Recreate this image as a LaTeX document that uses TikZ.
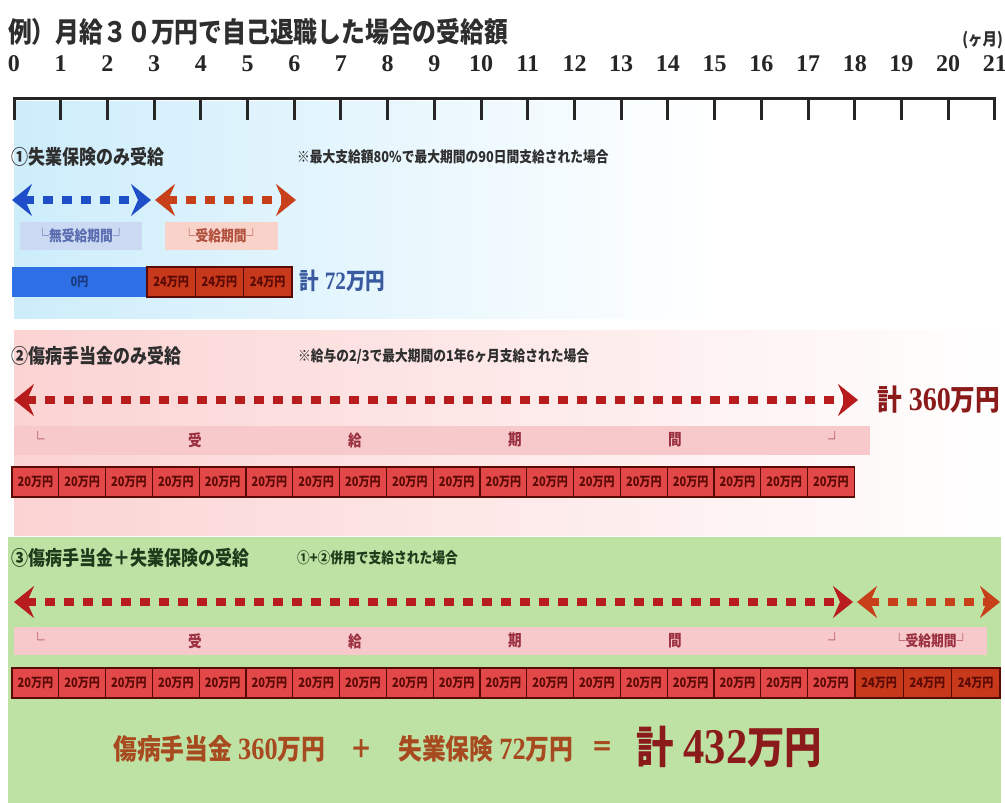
\documentclass[tikz,border=0pt]{standalone}
\usepackage{fontspec}
\usetikzlibrary{arrows.meta}
\newfontfamily\cjk[FakeStretch=0.85]{Noto Sans CJK JP}
\newfontfamily\nm[FakeStretch=0.85]{Liberation Serif}
\newfontfamily\nmax{Liberation Serif}
\newcommand{\fs}[1]{\fontsize{#1}{#1}\selectfont}
\definecolor{titlec}{HTML}{2E2E2E}
\definecolor{secblue}{HTML}{CDEDFB}
\definecolor{secpink}{HTML}{FBD3D3}
\definecolor{secgreen}{HTML}{BEE2A4}
\definecolor{arrblue}{HTML}{1F4FC8}
\definecolor{arrorange}{HTML}{C8401A}
\definecolor{arrred}{HTML}{B81C1C}
\definecolor{lblue}{HTML}{CBD9F2}
\definecolor{lbluetext}{HTML}{5A6CB0}
\definecolor{lpink}{HTML}{F9D2CA}
\definecolor{lpinktext}{HTML}{B0503C}
\definecolor{bandpink}{HTML}{F8C9CB}
\definecolor{bandtext}{HTML}{9A3040}
\definecolor{barblue}{HTML}{2F6FE6}
\definecolor{barbluetext}{HTML}{1A3A80}
\definecolor{cellred}{HTML}{E24848}
\definecolor{cellorange}{HTML}{C8381A}
\definecolor{celldark}{HTML}{5A0A05}
\definecolor{sumblue}{HTML}{3A5AA0}
\definecolor{sumred}{HTML}{8B1A1A}
\definecolor{bottomc}{HTML}{A84A20}
\definecolor{greentext}{HTML}{1F3A1A}
\tikzset{
  axisline/.style={line width=3pt, draw=black!85},
  tickline/.style={line width=3pt, draw=black!85},
  axnum/.style={font=\nmax\bfseries\fs{24}, text=black!85, inner sep=0pt},
  ttl/.style={anchor=west, font=\cjk\bfseries\fs{20}, text=titlec, inner sep=0pt},
  note/.style={anchor=west, font=\cjk\bfseries\fs{15}, text=titlec, inner sep=0pt},
  darr/.style={line width=8pt, dash pattern=on 10pt off 9pt,
    {Stealth[length=20pt,width=32pt,inset=7pt]}-{Stealth[length=20pt,width=32pt,inset=7pt]}},
  lbox/.style={minimum height=28pt, inner sep=0pt, font=\cjk\bfseries\fs{15}},
  bandbox/.style={minimum height=29pt, inner sep=0pt, fill=bandpink},
  bandch/.style={font=\cjk\bfseries\fs{16}, text=bandtext, inner sep=0pt},
  cellbox/.style={minimum height=30pt, inner sep=0pt, draw=celldark, line width=1.2pt,
    font=\cjk\bfseries\fs{13}, text=celldark},
  sumtext/.style={anchor=west, inner sep=0pt},
}
\begin{document}
\begin{tikzpicture}[x=1pt,y=-1pt]
\useasboundingbox (0,0) rectangle (1005,803);
\fill[white] (0,0) rectangle (1005,803);
% section backgrounds
\shade[left color=secblue, right color=white] (14,101) rectangle (720,318);
\shade[left color=secpink, right color=white] (14,330) rectangle (1005,535);
\fill[secgreen] (8,537) rectangle (1001,803);
% title
\node[anchor=west, font=\cjk\bfseries\fs{28}, text=titlec, inner sep=0pt] (title) at (8,32) {例）月給３０万円で自己退職した場合の受給額};
\node[anchor=east, font=\cjk\bfseries\fs{17}, text=titlec, inner sep=0pt] (unit) at (1003,40) {(ヶ月)};
% axis
\coordinate (ax0) at (14,98);
\coordinate (ax21) at (995,98);
\draw[axisline] (ax0) -- (ax21);
\foreach \i in {0,...,21}{
  \coordinate (t\i) at ({14+46.71*\i},97);
  \coordinate (tb\i) at ({14+46.71*\i},120);
  \draw[tickline] (t\i) -- (tb\i);
  \node[axnum] (n\i) at ({14+46.71*\i},64) {\i};
}
% section 1
\node[ttl] (h1) at (11,157) {①失業保険のみ受給};
\node[note] (m1) at (297,157) {※最大支給額80\%で最大期間の90日間支給された場合};
\coordinate (b1l) at (12,200);
\coordinate (b1r) at (151,200);
\coordinate (o1l) at (155,200);
\coordinate (o1r) at (296,200);
\draw[darr, draw=arrblue] (b1l) -- (b1r);
\draw[darr, draw=arrorange] (o1l) -- (o1r);
\node[lbox, fill=lblue, text=lbluetext, minimum width=122pt] (lab1) at (81,236) {└無受給期間┘};
\node[lbox, fill=lpink, text=lpinktext, minimum width=113pt] (lab2) at (221,236) {└受給期間┘};
\node[minimum width=135pt, minimum height=30pt, inner sep=0pt, fill=barblue,
  font=\cjk\bfseries\fs{13}, text=barbluetext] (z0) at (79.5,282) {0円};
\foreach \i in {0,1,2}{
  \node[cellbox, fill=cellorange, minimum width=48.3pt] (c1\i) at ({171.15+48.3*\i},282) {24万円};
}
\node[sumtext, text=sumblue] (s1) at (299,281)
  {{\cjk\bfseries\fs{23}計}\hspace{6pt}{\nm\bfseries\fs{25}72}{\cjk\bfseries\fs{23}万円}};
% section 2
\node[ttl] (h2) at (11,356) {②傷病手当金のみ受給};
\node[note] (m2) at (298,356) {※給与の2/3で最大期間の1年6ヶ月支給された場合};
\coordinate (r2l) at (14,400);
\coordinate (r2r) at (858,400);
\draw[darr, draw=arrred] (r2l) -- (r2r);
\node[sumtext, text=sumred] (s2) at (877,400)
  {{\cjk\bfseries\fs{29}計}\hspace{7pt}{\nm\bfseries\fs{33}360}{\cjk\bfseries\fs{29}万円}};
\node[bandbox, minimum width=856pt] (band2) at (442,440) {};
\node[bandch] (k2a) at (38,438) {└};
\node[bandch] (k2b) at (195,440) {受};
\node[bandch] (k2c) at (355,440) {給};
\node[bandch] (k2d) at (515,440) {期};
\node[bandch] (k2e) at (675,440) {間};
\node[bandch] (k2f) at (835,438) {┘};
\foreach \i in {0,...,17}{
  \node[cellbox, fill=cellred, minimum width=46.8pt] (c2\i) at ({35.4+46.8*\i},482) {20万円};
}
% section 3
\node[ttl, text=greentext] (h3) at (11,558) {③傷病手当金＋失業保険の受給};
\node[note, text=greentext] (m3) at (297,558) {①+②併用で支給された場合};
\coordinate (r3l) at (14,602);
\coordinate (r3r) at (853,602);
\coordinate (o3l) at (857,602);
\coordinate (o3r) at (1000,602);
\draw[darr, draw=arrred] (r3l) -- (r3r);
\draw[darr, draw=arrorange] (o3l) -- (o3r);
\node[bandbox, minimum width=973pt, minimum height=28pt] (band3) at (500.5,641) {};
\node[bandch] (k3a) at (38,639) {└};
\node[bandch] (k3b) at (195,641) {受};
\node[bandch] (k3c) at (355,641) {給};
\node[bandch] (k3d) at (515,641) {期};
\node[bandch] (k3e) at (675,641) {間};
\node[bandch] (k3f) at (835,639) {┘};
\node[bandch, font=\cjk\bfseries\fs{15}] (k3g) at (931,641) {└受給期間┘};
\foreach \i in {0,...,17}{
  \node[cellbox, fill=cellred, minimum width=46.8pt] (c3\i) at ({35.4+46.8*\i},683) {20万円};
}
\foreach \i in {0,1,2}{
  \node[cellbox, fill=cellorange, minimum width=48.3pt] (d3\i) at ({879.15+48.3*\i},683) {24万円};
}
% bottom summary
\node[sumtext, text=bottomc] (f1) at (113,749)
  {{\cjk\bfseries\fs{28}傷病手当金}\hspace{6pt}{\nm\bfseries\fs{31}360}{\cjk\bfseries\fs{28}万円}};
\node[text=bottomc, font=\cjk\bfseries\fs{26}, inner sep=0pt] (plus) at (362,749) {＋};
\node[sumtext, text=bottomc] (f2) at (398,749)
  {{\cjk\bfseries\fs{28}失業保険}\hspace{6pt}{\nm\bfseries\fs{31}72}{\cjk\bfseries\fs{28}万円}};
\node[text=bottomc, font=\cjk\bfseries\fs{26}, inner sep=0pt] (eq) at (603,749) {＝};
\node[sumtext, text=sumred] (f3) at (636,747)
  {{\cjk\bfseries\fs{44}計}\hspace{10pt}{\nm\bfseries\fs{50}432}{\cjk\bfseries\fs{44}万円}};
\end{tikzpicture}
\end{document}
